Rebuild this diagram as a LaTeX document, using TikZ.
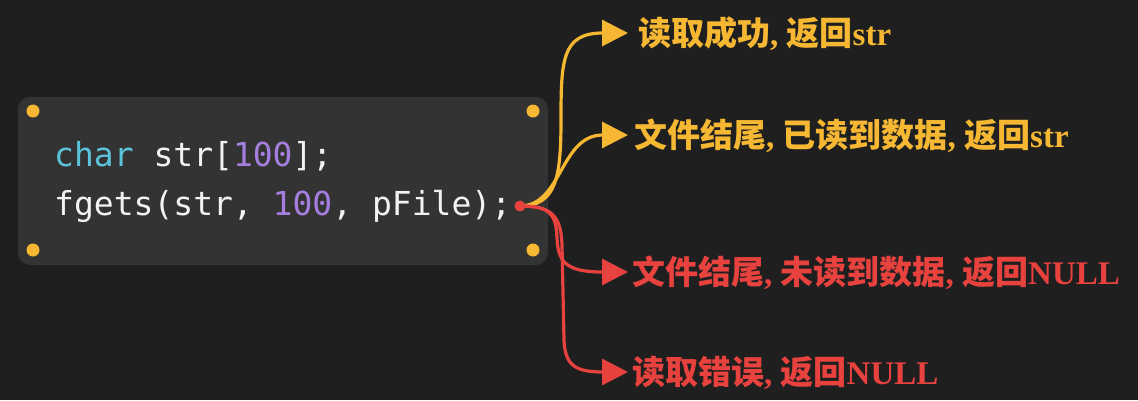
\documentclass[tikz,border=0pt]{standalone}
\usepackage{fontspec}
\setmonofont{DejaVu Sans Mono}
\newfontfamily\latf{Liberation Serif}
\newfontfamily\cjk{Noto Sans CJK SC}
\usetikzlibrary{arrows.meta}
\definecolor{bg}{HTML}{1F1F1F}
\definecolor{boxc}{HTML}{333333}
\definecolor{kw}{HTML}{5BC3DA}
\definecolor{num}{HTML}{A57EE0}
\definecolor{codew}{HTML}{F2F2F2}
\definecolor{ylw}{HTML}{F6B833}
\definecolor{rd}{HTML}{E8423F}
\tikzset{
  code/.style={anchor=base west, inner sep=0pt, text=codew, font=\ttfamily\fontsize{33}{40}\selectfont},
  lbl/.style={anchor=west, inner ysep=0pt, text height=29pt, text depth=4pt, font=\latf\bfseries\fontsize{33}{40}\selectfont},
  conn/.style={line width=3.2pt, -{Triangle[length=26pt,width=26pt]}},
  cdot/.style={fill=ylw, circle, inner sep=0pt, minimum size=13pt},
}
\begin{document}
\begin{tikzpicture}[x=1pt,y=-1pt]
\fill[bg] (0,0) rectangle (1138,400);
\useasboundingbox (0,0) rectangle (1138,400);
% code box
\node[fill=boxc, rounded corners=12pt, minimum width=530pt, minimum height=168pt, inner sep=0pt] (box) at (283,181) {};
\node[cdot] (c1) at (33,111) {};
\node[cdot] (c2) at (533,111) {};
\node[cdot] (c3) at (33,250) {};
\node[cdot] (c4) at (533,250) {};
\node[code] (l1) at (54,166) {\textcolor{kw}{char} str[\textcolor{num}{100}];};
\node[code] (l2) at (54,215) {fgets(str, \textcolor{num}{100}, pFile);};
% labels
\node[lbl, text=ylw, inner xsep=10pt] (t1) at (628,33) {{\cjk\bfseries 读取成功}, {\cjk\bfseries 返回}str};
\node[lbl, text=ylw, inner xsep=6pt] (t2) at (628,135) {{\cjk\bfseries 文件结尾}, {\cjk\bfseries 已读到数据}, {\cjk\bfseries 返回}str};
\node[lbl, text=rd, inner xsep=4pt] (t3) at (628,272) {{\cjk\bfseries 文件结尾}, {\cjk\bfseries 未读到数据}, {\cjk\bfseries 返回}NULL};
\node[lbl, text=rd, inner xsep=4pt] (t4) at (628,372) {{\cjk\bfseries 读取错误}, {\cjk\bfseries 返回}NULL};
% origin dot
\coordinate (o) at (520,206);
\coordinate (p1) at (561,120);
\coordinate (p3) at (557,238);
\coordinate (p4a) at (562,245);
\coordinate (p4b) at (564,340);
% connectors
\draw[conn, ylw] (o) .. controls (556,206) and (561,178) .. (p1) .. controls (561,60) and (562,33) .. (t1.west);
\draw[conn, ylw] (o) .. controls (562,206) and (560,135) .. (t2.west);
\draw[conn, rd] (o) .. controls (550,206) and (556,214) .. (p3) .. controls (558,262) and (566,272) .. (t3.west);
\draw[conn, rd] (o) .. controls (550,206) and (561,214) .. (p4a) -- (p4b) .. controls (565,365) and (575,372) .. (t4.west);
\node[fill=rd, circle, inner sep=0pt, minimum size=11pt] (dot) at (o) {};
\end{tikzpicture}
\end{document}
